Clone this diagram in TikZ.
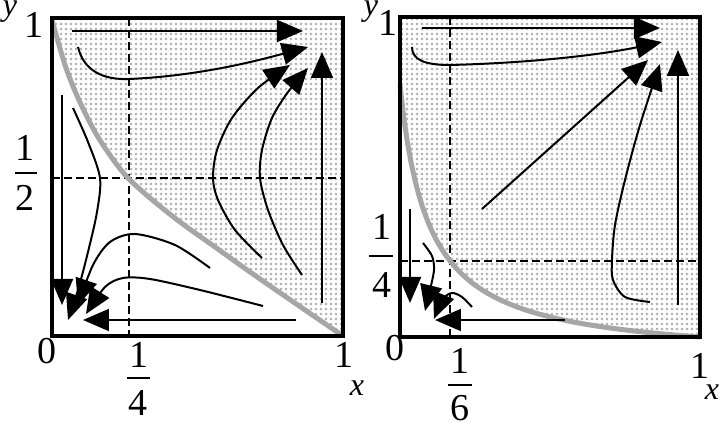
\documentclass[tikz,border=0pt]{standalone}
\usepackage{fontspec}
\setmainfont{Liberation Serif}
\usetikzlibrary{arrows.meta,patterns}
\pgfdeclarepatternformonly{stipple}{\pgfqpoint{0pt}{0pt}}{\pgfqpoint{2.25pt}{2.25pt}}{\pgfqpoint{2.25pt}{2.25pt}}{\pgfpathrectangle{\pgfqpoint{0.5pt}{0.5pt}}{\pgfqpoint{1.25pt}{1.25pt}}\pgfusepath{fill}}
\definecolor{sepgray}{HTML}{A6A6A6}
\definecolor{dotgray}{HTML}{B4B4B4}
\tikzset{
 flow/.style={line width=1pt,-{Triangle[length=13pt,width=11pt]}},
 guide/.style={line width=0.8pt,dash pattern=on 4pt off 2pt},
 sep/.style={line width=2.5pt,color=sepgray},
 frame/.style={line width=2pt},
 shade/.style={pattern=stipple,pattern color=dotgray},
 lab/.style={inner sep=0pt,font=\fontsize{19}{19}\selectfont},
 vlab/.style={inner sep=0pt,font=\fontsize{16}{16}\selectfont\itshape},
 fbar/.style={line width=1pt}
}
\begin{document}
\begin{tikzpicture}[x=0.5pt,y=-0.5pt]
\useasboundingbox (0,0) rectangle (720,426);
% ---------------- left panel ----------------
\fill[shade] plot[smooth] coordinates {(52,20) (65,65) (78,98) (95,132) (112,158) (128,178) (150,198) (180,222) (215,247) (260,279) (343,336)} -- (343,18) -- (52,18) -- cycle;
\draw[guide] (129,18) -- (129,336);
\draw[guide] (52,178) -- (343,178);
\draw[sep] plot[smooth] coordinates {(52,20) (65,65) (78,98) (95,132) (112,158) (128,178) (150,198) (180,222) (215,247) (260,279) (343,336)};
% flows
\draw[flow] (72,31) -- (303,31);
\draw[flow] (78,47) .. controls (84,72) and (105,80) .. (129,79) .. controls (200,76) and (260,60) .. (308,47);
\draw[flow] plot[smooth] coordinates {(262,258) (235,230) (218,200) (213,178) (217,150) (232,118) (258,88) (290,65)};
\draw[flow] plot[smooth] coordinates {(302,275) (283,245) (268,210) (260,178) (262,150) (272,118) (288,92) (308,68)};
\draw[flow] (322,303) -- (322,52);
\draw[flow] (62,95) -- (62,305);
\draw[flow] plot[smooth] coordinates {(73,108) (88,142) (100,178) (97,212) (88,252) (78,290) (68,320)};
\draw[flow] plot[smooth] coordinates {(210,268) (175,245) (135,234) (110,242) (93,265) (78,305)};
\draw[flow] plot[smooth] coordinates {(263,306) (200,290) (150,279) (123,278) (105,287) (86,314)};
\draw[flow] (296,320) -- (83,320);
\draw[frame] (52,18) rectangle (343,336);
% labels
\node[vlab] (ly) at (10,12) {y};
\node[lab] (ly1) at (34,25) {1};
\node[lab] (lhn) at (25,148) {1};
\draw[fbar] (15,173) -- (37,173);
\node[lab] (lhd) at (25,198) {2};
\node[lab] (l0) at (47,351) {0};
\node[lab] (lqn) at (139,355) {1};
\draw[fbar] (127,378) -- (150,378);
\node[lab] (lqd) at (138,403) {4};
\node[lab] (lx1) at (344,355) {1};
\node[vlab] (lx) at (357,388) {x};
% ---------------- right panel ----------------
\fill[shade] plot[domain=0:1,samples=80] ({400+300*\x},{337-320*(0.0818/(\x+0.095)-0.0747)}) -- (700,17) -- (400,17) -- cycle;
\draw[guide] (450,17) -- (450,337);
\draw[guide] (400,261) -- (700,261);
\draw[sep] plot[domain=0:1,samples=80] ({400+300*\x},{337-320*(0.0818/(\x+0.095)-0.0747)});
\draw[flow] (422,28) -- (660,28);
\draw[flow] (412,47) .. controls (412,60) and (425,65) .. (450,65) .. controls (530,63) and (600,55) .. (662,42);
\draw[flow] (482,209) -- (648,60);
\draw[flow] plot[smooth] coordinates {(650,302) (625,297) (613,280) (612,260) (615,225) (625,180) (640,125) (660,64)};
\draw[flow] (678,305) -- (678,50);
\draw[flow] (410,209) -- (410,303);
\draw[flow] plot[smooth] coordinates {(423,243) (432,256) (434,270) (430,290) (425,311)};
\draw[flow] plot[smooth] coordinates {(472,307) (462,297) (452,293) (443,299) (434,319)};
\draw[flow] (565,320) -- (435,320);
\draw[frame] (400,17) rectangle (700,337);
\node[vlab] (ry) at (371,12) {y};
\node[lab] (ry1) at (388,23) {1};
\node[lab] (rqn) at (382,227) {1};
\draw[fbar] (369,256) -- (393,256);
\node[lab] (rqd) at (382,285) {4};
\node[lab] (r0) at (395,348) {0};
\node[lab] (rsn) at (460,361) {1};
\draw[fbar] (448,385) -- (472,385);
\node[lab] (rsd) at (460,408) {6};
\node[lab] (rx1) at (700,366) {1};
\node[vlab] (rx) at (712,392) {x};
\end{tikzpicture}
\end{document}
